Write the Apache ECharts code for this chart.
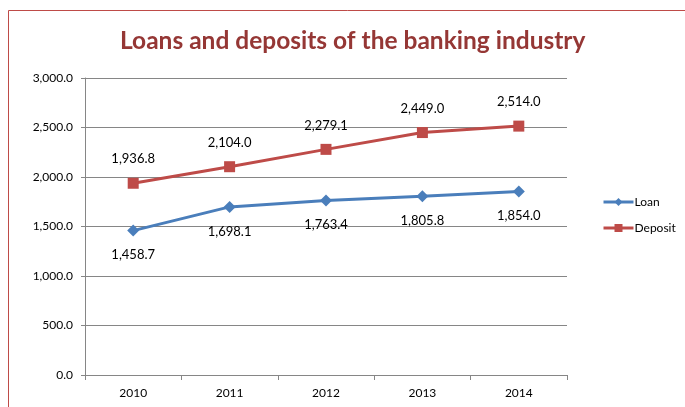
<!DOCTYPE html>
<html>
<head>
<meta charset="utf-8">
<script src="https://cdn.jsdelivr.net/npm/echarts@6/dist/echarts.min.js"></script>
<style>
  html, body { margin: 0; padding: 0; background: #fff; }
  #chart { width: 685px; height: 407px; }
</style>
</head>
<body>
<div id="chart"></div>
<script>
// Loans and deposits of the banking industry, 2010-2014
const years = ['2010', '2011', '2012', '2013', '2014'];
const loanValues = [1458.7, 1698.1, 1763.4, 1805.8, 1854.0];
const depositValues = [1936.8, 2104.0, 2279.1, 2449.0, 2514.0];

const fmt = v => v.toLocaleString('en-US', { minimumFractionDigits: 1, maximumFractionDigits: 1 });
const font = 'Lato, "Open Sans", sans-serif';

const chart = echarts.init(document.getElementById('chart'));
chart.setOption({
  backgroundColor: '#ffffff',
  animation: false,
  graphic: [{
    type: 'rect',
    shape: { x: 8.5, y: 10.5, width: 720, height: 440 },
    style: { fill: 'none', stroke: '#be4b48', lineWidth: 1 },
    silent: true,
    z: -1
  }],
  title: {
    text: 'Loans and deposits of the banking industry',
    left: 115,
    top: 24,
    textStyle: { fontFamily: font, fontWeight: 'bold', fontSize: 24.5, color: '#953735' }
  },
  legend: {
    orient: 'vertical',
    left: 597,
    top: 191,
    itemWidth: 30,
    itemHeight: 10,
    itemGap: 14,
    lineStyle: { width: 3 },
    textStyle: { fontFamily: font, fontSize: 12, color: '#000', padding: [0, 0, 0, -4] },
    data: ['Loan', 'Deposit']
  },
  grid: { left: 85, top: 78, right: 118, bottom: 32 },
  xAxis: {
    type: 'category',
    data: years,
    boundaryGap: true,
    axisLine: { lineStyle: { color: '#868686', width: 1 } },
    axisTick: { show: true, length: 5, lineStyle: { color: '#868686' } },
    axisLabel: { fontFamily: font, fontSize: 12, color: '#000', margin: 12 }
  },
  yAxis: {
    type: 'value',
    min: 0,
    max: 3000,
    interval: 500,
    axisLine: { show: true, lineStyle: { color: '#868686', width: 1 } },
    axisTick: { show: true, length: 4, lineStyle: { color: '#868686' } },
    axisLabel: { fontFamily: font, fontSize: 12, color: '#000', margin: 12, formatter: v => fmt(v) },
    splitLine: { lineStyle: { color: '#868686', width: 1 } }
  },
  series: [
    {
      name: 'Loan',
      type: 'line',
      data: loanValues,
      symbol: 'diamond',
      symbolSize: 12,
      lineStyle: { color: '#4a7ebb', width: 3 },
      itemStyle: { color: '#4a7ebb' },
      label: {
        show: true,
        position: 'bottom',
        distance: 12,
        fontFamily: font,
        fontSize: 13,
        color: '#000',
        formatter: p => fmt(p.value)
      }
    },
    {
      name: 'Deposit',
      type: 'line',
      data: depositValues,
      symbol: 'rect',
      symbolSize: 11,
      lineStyle: { color: '#be4b48', width: 3 },
      itemStyle: { color: '#be4b48' },
      label: {
        show: true,
        position: 'top',
        distance: 12,
        fontFamily: font,
        fontSize: 13,
        color: '#000',
        formatter: p => fmt(p.value)
      }
    }
  ]
});
</script>
</body>
</html>
